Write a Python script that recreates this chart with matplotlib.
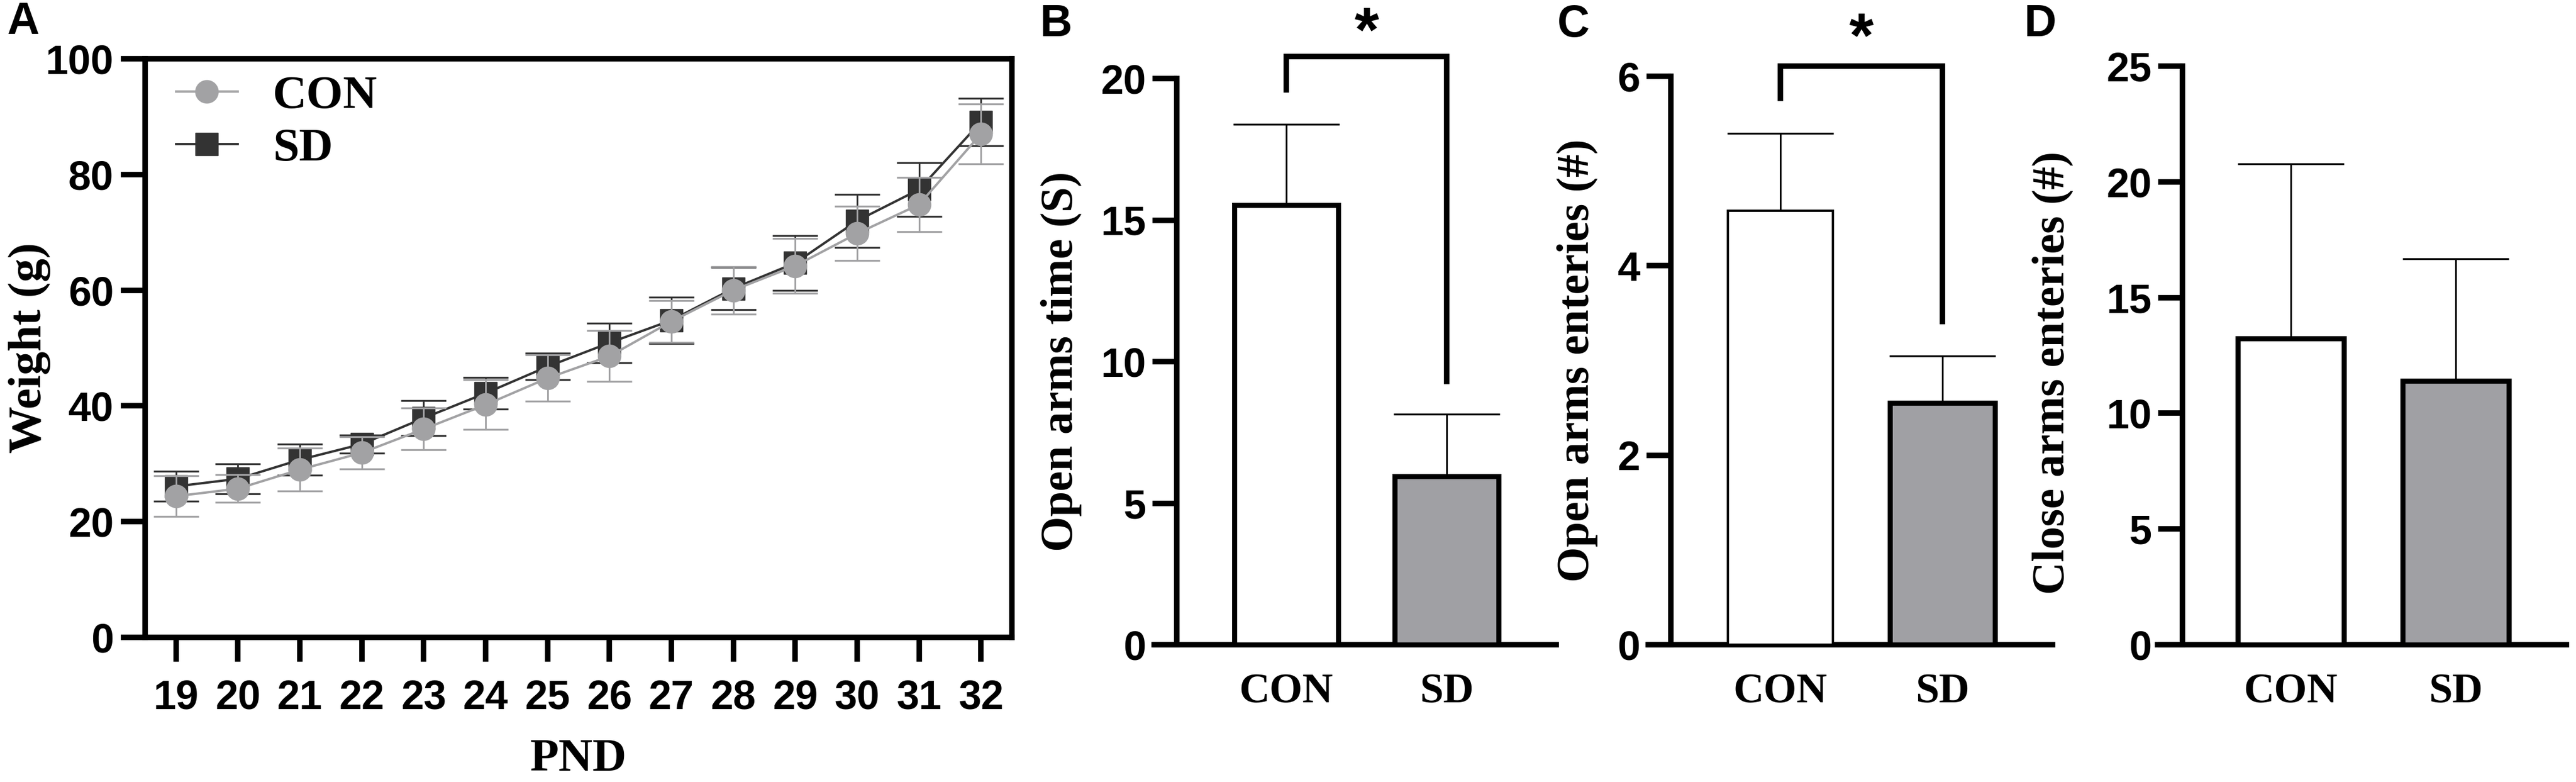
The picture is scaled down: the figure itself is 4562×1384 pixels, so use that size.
import matplotlib
matplotlib.use('Agg')
import matplotlib.pyplot as plt
import numpy as np

# ---- data ----
days = [19, 20, 21, 22, 23, 24, 25, 26, 27, 28, 29, 30, 31, 32]
con_weight = [24.4, 25.7, 29.0, 31.9, 36.0, 40.2, 44.8, 48.6, 54.6, 60.0, 64.2, 69.8, 74.8, 87.0]
con_weight_err = [3.5, 2.4, 3.7, 2.8, 3.6, 4.3, 4.0, 4.4, 3.6, 4.1, 4.7, 4.7, 4.7, 5.2]
sd_weight = [26.1, 27.4, 30.7, 33.4, 37.9, 42.2, 46.8, 50.9, 54.8, 60.3, 64.7, 72.0, 77.4, 89.1]
sd_weight_err = [2.6, 2.6, 2.7, 1.6, 3.0, 2.7, 2.3, 3.4, 4.0, 3.7, 4.7, 4.6, 4.6, 4.1]

groups = ['CON', 'SD']
open_time = [15.53, 5.95]
open_time_err = [2.85, 2.19]
open_entries = [4.58, 2.55]
open_entries_err = [0.82, 0.50]
close_entries = [13.23, 11.41]
close_entries_err = [7.55, 5.27]

# significance brackets: left leg bottom, bar top, right leg bottom, star height
bracket_b = [19.6, 20.78, 9.3, 21.55]
bracket_c = [5.77, 6.11, 3.41, 6.38]

W, H = 4562, 1384
fig = plt.figure(figsize=(W / 100, H / 100), dpi=100)
plt.rcParams['font.family'] = 'Liberation Sans'
plt.rcParams['font.weight'] = 'bold'

SPINE = 7
TICK_LEN = 31
SERIF = 'Liberation Serif'
con_grey = '#a2a2a4'
sd_dark = '#333333'
bar_grey = '#a0a0a4'


def px_axes(left, top, right, bottom):
    return fig.add_axes([left / W, 1 - bottom / H, (right - left) / W, (bottom - top) / H])


# ---------------- panel A ----------------
axA = px_axes(257, 104, 1792, 1128)
sd_line = axA.errorbar(days, sd_weight, yerr=sd_weight_err, color=sd_dark, marker='s',
                       markersize=29, lw=3, elinewidth=2.2, capsize=29, capthick=2.4,
                       label='SD', zorder=2)
con_line = axA.errorbar(days, con_weight, yerr=con_weight_err, color=con_grey, marker='o',
                        markersize=29, lw=3, elinewidth=2.2, capsize=29, capthick=2.4,
                        label='CON', zorder=3)
axA.set_xlim(18.5, 32.5)
axA.set_ylim(0, 100)
axA.set_xticks(days)
axA.set_yticks([0, 20, 40, 60, 80, 100])
for sp in axA.spines.values():
    sp.set_linewidth(SPINE)
axA.tick_params(axis='both', length=TICK_LEN, width=SPINE, labelsize=52)
axA.tick_params(axis='y', pad=9)
axA.tick_params(axis='x', pad=22)
axA.set_ylabel('Weight (g)', family=SERIF, fontweight='bold', fontsize=60)
axA.yaxis.set_label_coords((90 - 257) / 1535, 0.5)
axA.set_xlabel('PND', family=SERIF, fontweight='bold', fontsize=60)
axA.xaxis.set_label_coords(0.5, -0.175)
axA.legend(handles=[con_line[0], sd_line[0]], labels=['CON', 'SD'], loc='upper left',
           bbox_to_anchor=(0.036, 0.972), frameon=False, borderpad=0, borderaxespad=0,
           handlelength=1.3, handletextpad=0.75, labelspacing=0.2,
           prop={'family': SERIF, 'weight': 'bold', 'size': 60})
fig.text(12 / W, 1 - 40 / H, 'A', fontsize=57, fontweight='bold', va='center', ha='left')


# ---------------- bar panels ----------------
def bar_panel(left, spine_x, right, top, c1, c2, ymax, step, means, errs, ylabel,
              label_right, label_y, letter, letter_x, con_lw, bracket=None):
    ax = px_axes(left, top, right, 1141)
    unit = c2 - c1
    ax.set_xlim((left - c1) / unit, (right - c1) / unit)
    ax.set_ylim(0, ymax)
    x = np.arange(len(groups))
    bars = ax.bar(x, means, width=0.645, color=['white', bar_grey], edgecolor='black',
                  linewidth=6.5, zorder=3)
    bars[0].set_linewidth(con_lw)
    ax.errorbar(x, means, yerr=[[0, 0], errs], fmt='none', ecolor='black',
                elinewidth=2.2, capsize=68, capthick=2.4, zorder=2)
    ax.spines['top'].set_visible(False)
    ax.spines['right'].set_visible(False)
    ax.spines['left'].set_position(('data', (spine_x - c1) / unit))
    ax.spines['left'].set_linewidth(SPINE)
    ax.spines['bottom'].set_linewidth(SPINE)
    ax.set_yticks(np.arange(0, ymax + 0.01, step))
    ax.tick_params(axis='y', length=TICK_LEN, width=SPINE, labelsize=52, pad=8)
    ax.tick_params(axis='x', length=0, pad=36)
    ax.set_xticks(x)
    ax.set_xticklabels(groups, family=SERIF, fontweight='bold', fontsize=54)
    ax.set_ylabel(ylabel, family=SERIF, fontweight='bold', fontsize=58)
    ax.yaxis.set_label_coords((label_right - left) / (right - left), label_y)
    if bracket is not None:
        lo, hi, lo2, star = bracket
        ax.plot([0, 0, 1, 1], [lo, hi, hi, lo2], color='black', lw=SPINE,
                solid_joinstyle='miter', clip_on=False, zorder=4)
        ax.text(0.5, star, '*', ha='center', va='center', fontsize=80,
                fontweight='bold', clip_on=False)
    fig.text(letter_x / W, 1 - 44 / H, letter, fontsize=57, fontweight='bold',
             va='center', ha='left')
    return ax


bar_panel(2044, 2084, 2756, 139, 2278, 2562, 20, 5, open_time, open_time_err,
          'Open arms time (S)', 1916, 0.5, 'B', 1842, 6.5, bracket_b)
bar_panel(2919, 2959, 3635, 135, 3153, 3440, 6, 2, open_entries, open_entries_err,
          'Open arms enteries (#)', 2830, 0.5, 'C', 2758, 3, bracket_c)
bar_panel(3821, 3865, 4545, 117, 4057, 4349, 25, 5, close_entries, close_entries_err,
          'Close arms enteries (#)', 3672, 0.47, 'D', 3585, 6.5)

fig.savefig('out.png', dpi=100, facecolor='white')
